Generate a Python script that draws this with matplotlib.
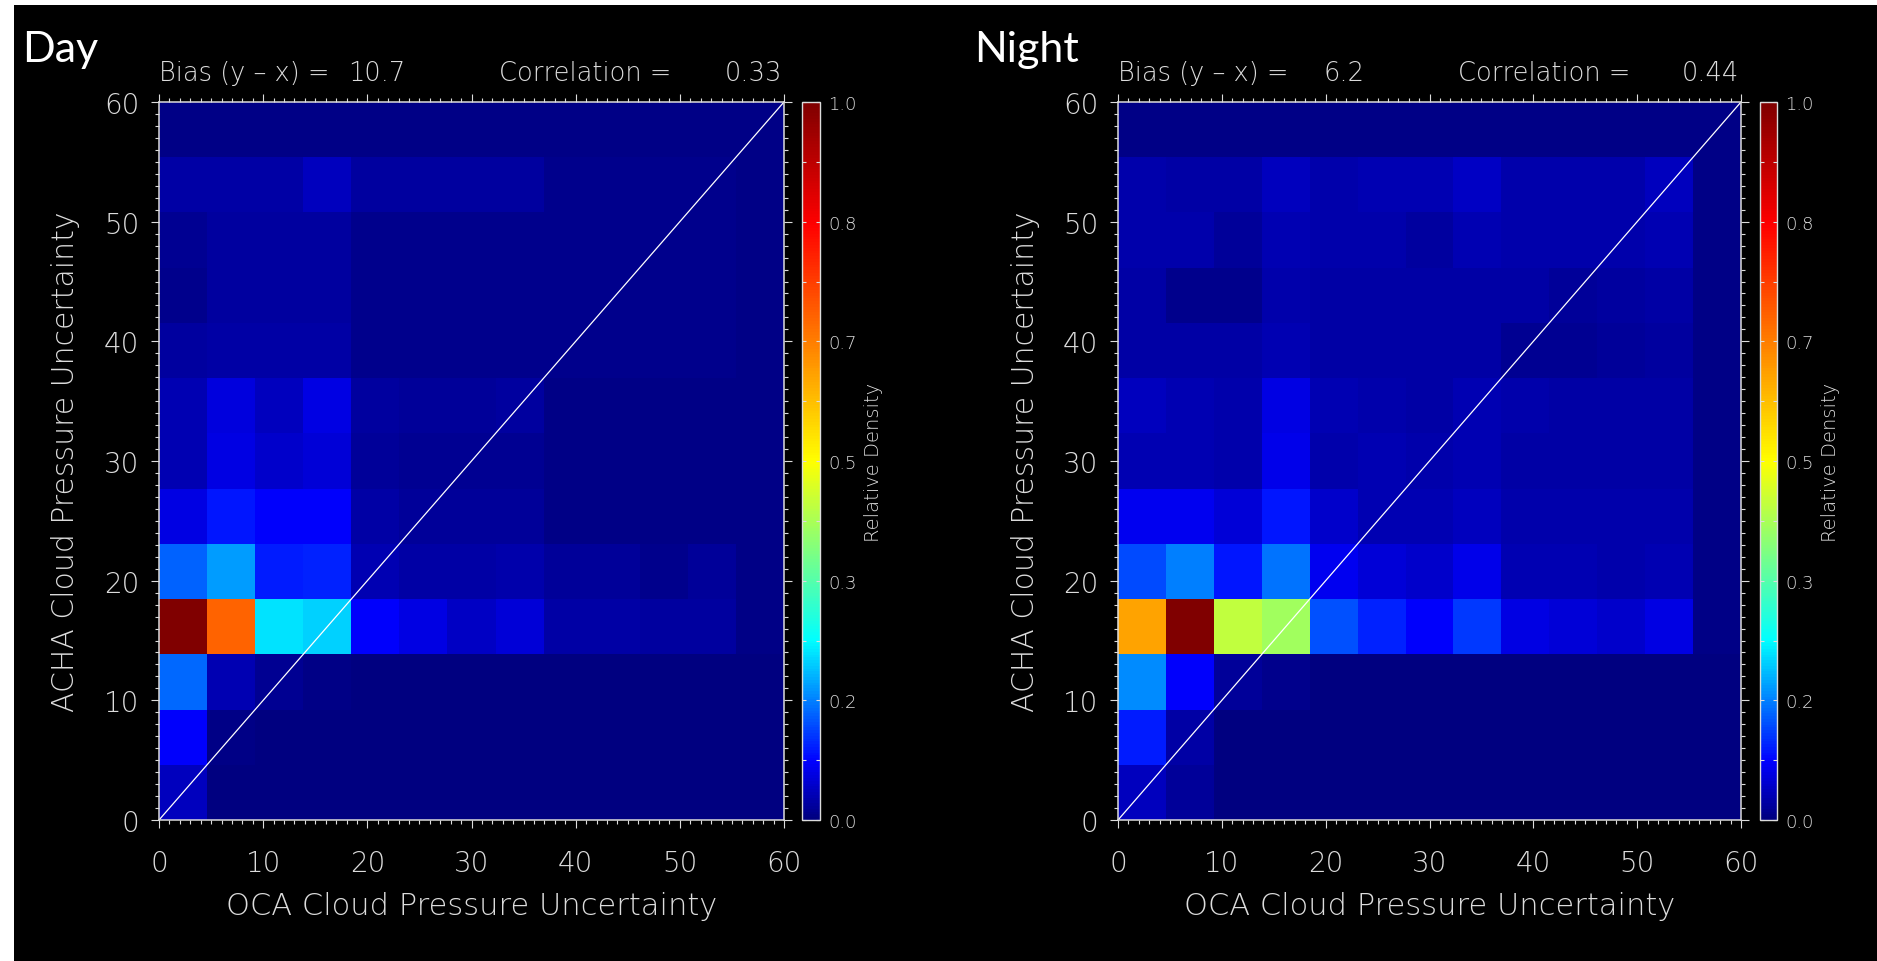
import numpy as np
import matplotlib.pyplot as plt
from matplotlib.colors import LinearSegmentedColormap
from matplotlib.patches import Rectangle
from matplotlib.ticker import MultipleLocator

plt.rcParams['font.family'] = ['DejaVu Sans']

W, H = 1877, 962

# 13 x 13 bins over 0..60 on both axes
bin_edges = np.linspace(0, 60, 14)

# relative density; rows = ACHA bins from the bottom up, columns = OCA bins left to right
day_density = [
    [0.040, 0.000, 0.000, 0.000, 0.000, 0.000, 0.000, 0.000, 0.000, 0.000, 0.000, 0.000, 0.000],
    [0.080, 0.004, 0.000, 0.000, 0.000, 0.000, 0.000, 0.000, 0.000, 0.000, 0.000, 0.000, 0.000],
    [0.150, 0.032, 0.013, 0.004, 0.003, 0.003, 0.003, 0.003, 0.002, 0.002, 0.002, 0.002, 0.002],
    [1.000, 0.700, 0.233, 0.220, 0.080, 0.064, 0.045, 0.056, 0.024, 0.024, 0.020, 0.020, 0.004],
    [0.145, 0.185, 0.100, 0.105, 0.032, 0.024, 0.024, 0.030, 0.016, 0.016, 0.010, 0.016, 0.004],
    [0.064, 0.095, 0.080, 0.080, 0.024, 0.018, 0.016, 0.016, 0.006, 0.006, 0.006, 0.006, 0.004],
    [0.032, 0.064, 0.050, 0.056, 0.016, 0.013, 0.013, 0.013, 0.005, 0.005, 0.005, 0.005, 0.004],
    [0.032, 0.060, 0.040, 0.064, 0.020, 0.016, 0.016, 0.020, 0.006, 0.006, 0.006, 0.006, 0.004],
    [0.020, 0.024, 0.024, 0.024, 0.008, 0.008, 0.008, 0.008, 0.008, 0.008, 0.008, 0.008, 0.004],
    [0.008, 0.020, 0.020, 0.020, 0.008, 0.008, 0.008, 0.008, 0.008, 0.008, 0.008, 0.008, 0.004],
    [0.012, 0.020, 0.020, 0.020, 0.008, 0.008, 0.008, 0.008, 0.008, 0.008, 0.008, 0.008, 0.004],
    [0.024, 0.024, 0.024, 0.040, 0.020, 0.020, 0.020, 0.020, 0.008, 0.008, 0.008, 0.008, 0.004],
    [0.004, 0.004, 0.004, 0.004, 0.004, 0.004, 0.004, 0.004, 0.004, 0.004, 0.004, 0.004, 0.004],
]

night_density = [
    [0.040, 0.016, 0.000, 0.000, 0.000, 0.000, 0.000, 0.000, 0.000, 0.000, 0.000, 0.000, 0.000],
    [0.100, 0.024, 0.000, 0.000, 0.000, 0.000, 0.000, 0.000, 0.000, 0.000, 0.000, 0.000, 0.000],
    [0.173, 0.080, 0.016, 0.010, 0.003, 0.003, 0.003, 0.003, 0.002, 0.002, 0.002, 0.002, 0.002],
    [0.620, 1.000, 0.440, 0.410, 0.136, 0.105, 0.080, 0.120, 0.064, 0.056, 0.048, 0.064, 0.004],
    [0.130, 0.165, 0.097, 0.157, 0.072, 0.056, 0.048, 0.067, 0.032, 0.032, 0.030, 0.035, 0.004],
    [0.072, 0.072, 0.056, 0.097, 0.048, 0.032, 0.032, 0.040, 0.028, 0.028, 0.028, 0.030, 0.004],
    [0.035, 0.035, 0.029, 0.067, 0.029, 0.032, 0.029, 0.035, 0.026, 0.026, 0.026, 0.026, 0.004],
    [0.040, 0.035, 0.030, 0.064, 0.032, 0.030, 0.026, 0.035, 0.030, 0.026, 0.026, 0.026, 0.004],
    [0.024, 0.024, 0.024, 0.032, 0.024, 0.024, 0.024, 0.024, 0.012, 0.012, 0.016, 0.020, 0.004],
    [0.024, 0.008, 0.008, 0.028, 0.024, 0.024, 0.024, 0.024, 0.024, 0.016, 0.020, 0.024, 0.004],
    [0.028, 0.028, 0.016, 0.032, 0.028, 0.028, 0.020, 0.035, 0.028, 0.028, 0.028, 0.032, 0.004],
    [0.028, 0.024, 0.024, 0.040, 0.028, 0.035, 0.035, 0.045, 0.028, 0.028, 0.028, 0.040, 0.004],
    [0.004, 0.004, 0.004, 0.004, 0.004, 0.004, 0.004, 0.004, 0.004, 0.004, 0.004, 0.004, 0.004],
]

panel_names = ['Day', 'Night']
bias_values = ['10.7', '6.2']
corr_values = ['0.33', '0.44']

# blue-red table: navy -> blue -> cyan -> yellow -> red -> dark red
cmap = LinearSegmentedColormap.from_list('bluered', [
    (0.00, (0.0, 0.0, 0.5)),
    (0.08, (0.0, 0.0, 1.0)),
    (0.25, (0.0, 1.0, 1.0)),
    (0.50, (1.0, 1.0, 0.0)),
    (0.83, (1.0, 0.0, 0.0)),
    (1.00, (0.5, 0.0, 0.0)),
])

fg = '#dcdcdc'
thin = 200   # light cut if installed, otherwise the regular face

fig = plt.figure(figsize=(W / 100, H / 100), dpi=100, facecolor='white')
fig.patches.append(Rectangle((14 / W, 0), 1, 1 - 6 / H, transform=fig.transFigure,
                             facecolor='black', edgecolor='none', zorder=-10))


def fx(px):
    return px / W


def fy(py):
    return 1 - py / H


ax_top, ax_bot = 103, 821
panels = [
    dict(ax_left=159, ax_w=625, cb_left=802, cb_w=18, ylab_x=66, name_x=22),
    dict(ax_left=1118, ax_w=623, cb_left=1760, cb_w=17, ylab_x=1025, name_x=974),
]


def label(x, y, s, **kw):
    kw.setdefault('color', fg)
    kw.setdefault('fontweight', thin)
    fig.text(fx(x), fy(y), s, **kw)


for p, name, grid, bias, corr in zip(panels, panel_names, [day_density, night_density],
                                     bias_values, corr_values):
    x0, w = p['ax_left'], p['ax_w']
    ax = fig.add_axes([fx(x0), fy(ax_bot), fx(w), (ax_bot - ax_top) / H])
    ax.set_facecolor('black')
    mesh = ax.pcolormesh(bin_edges, bin_edges, np.array(grid), cmap=cmap, vmin=0, vmax=1)
    ax.plot([0, 60], [0, 60], color='white', lw=0.9)
    ax.set_xlim(0, 60)
    ax.set_ylim(0, 60)

    ax.xaxis.set_major_locator(MultipleLocator(10))
    ax.yaxis.set_major_locator(MultipleLocator(10))
    ax.xaxis.set_minor_locator(MultipleLocator(1))
    ax.yaxis.set_minor_locator(MultipleLocator(1))
    ax.tick_params(which='both', direction='out', top=True, right=True, color=fg, width=0.8)
    ax.tick_params(which='major', length=6)
    ax.tick_params(which='minor', length=3)
    ax.tick_params(axis='x', which='major', labelsize=20, labelcolor=fg, pad=15)
    ax.tick_params(axis='y', which='major', labelsize=20, labelcolor=fg, pad=8)
    for lab in ax.get_xticklabels() + ax.get_yticklabels():
        lab.set_fontweight(thin)
    for sp in ax.spines.values():
        sp.set_color(fg)
        sp.set_linewidth(1.1)

    label(x0 + w / 2, 907, 'OCA Cloud Pressure Uncertainty', ha='center', va='center', fontsize=22)
    label(p['ylab_x'], (ax_top + ax_bot) / 2, 'ACHA Cloud Pressure Uncertainty',
          ha='center', va='center', rotation=90, fontsize=21.5)

    # statistics line above the panel
    label(x0, 74, 'Bias (y \u2013 x) =', ha='left', va='center', fontsize=18.5)
    label(x0 + 246, 74, bias, ha='right', va='center', fontsize=18.5)
    label(x0 + 340, 74, 'Correlation =', ha='left', va='center', fontsize=18.5)
    label(x0 + w - 2, 74, corr, ha='right', va='center', fontsize=18.5)
    label(p['name_x'], 62, name, ha='left', va='baseline', fontsize=31, color='white',
          fontweight='normal', family=['Lato', 'DejaVu Sans'])

    cax = fig.add_axes([fx(p['cb_left']), fy(ax_bot), fx(p['cb_w']), (ax_bot - ax_top) / H])
    cb = fig.colorbar(mesh, cax=cax)
    cb.outline.set_edgecolor(fg)
    cb.outline.set_linewidth(1.0)
    cb_ticks = np.arange(7) / 6
    cb.set_ticks(cb_ticks)
    cb.set_ticklabels([f'{t:.1f}' for t in cb_ticks])
    cax.yaxis.set_minor_locator(MultipleLocator(1 / 12))
    cax.tick_params(which='both', direction='in', left=True, right=True, color=fg,
                    length=3, width=0.8, labelsize=13, labelcolor=fg, pad=6)
    for lab in cax.get_yticklabels():
        lab.set_fontweight(thin)
    cb.set_label('Relative Density', color=fg, fontsize=14, fontweight=thin, labelpad=5)

fig.savefig('out.png', dpi=100, facecolor=fig.get_facecolor())
